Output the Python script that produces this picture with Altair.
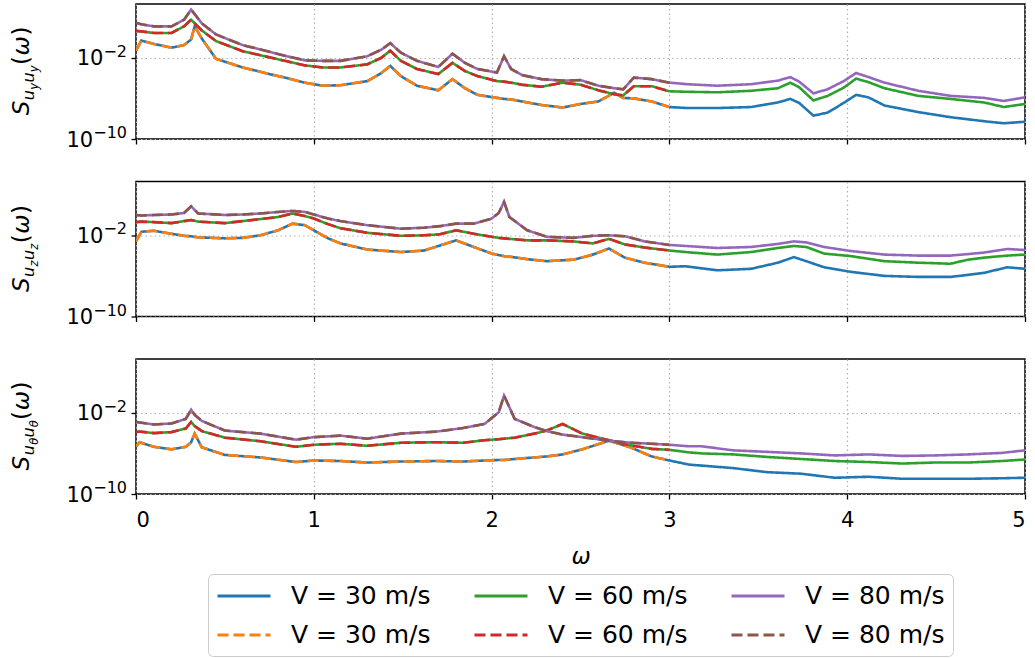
import altair as alt
import pandas as pd

# ---------------- data (log10 of spectral density) ----------------
P1_X = [0.0, 0.03, 0.1, 0.2, 0.27, 0.31, 0.33, 0.37, 0.45, 0.6, 0.75, 0.85, 0.95, 1.05, 1.15,
        1.3, 1.38, 1.43, 1.49, 1.58, 1.7, 1.78, 1.85, 1.92, 2.03, 2.07, 2.11, 2.17, 2.28, 2.4,
        2.5, 2.6, 2.69, 2.74, 2.8, 2.9, 3.0, 3.1, 3.27, 3.46, 3.61, 3.68, 3.73, 3.81, 3.89,
        3.98, 4.05, 4.12, 4.21, 4.4, 4.58, 4.77, 4.88, 5.0]
P1_V30 = [-1.3, -0.3, -0.63, -1.0, -0.75, -0.2, 1.1, -0.1, -2.1, -2.95, -3.6, -4.0, -4.45, -4.75, -4.7,
          -4.3, -3.5, -2.8, -3.8, -4.75, -5.2, -4.1, -5.0, -5.65, -5.95, -6.05, -6.1, -6.3, -6.65, -6.9,
          -6.55, -6.3, -5.45, -5.95, -6.0, -6.3, -6.85, -6.95, -6.95, -6.85, -6.4, -6.05, -6.45, -7.7, -7.4,
          -6.45, -5.65, -5.9, -6.7, -7.35, -7.85, -8.25, -8.45, -8.3]
P1_V60 = [0.65, 0.6, 0.45, 0.45, 1.1, 1.75, 1.4, 0.7, -0.35, -1.35, -1.95, -2.35, -2.75, -2.95, -2.95,
          -2.65, -2.0, -1.3, -2.3, -3.1, -3.6, -2.5, -3.3, -3.8, -4.3, -4.35, -4.45, -4.65, -4.85, -4.45,
          -4.65, -5.2, -5.6, -5.7, -4.8, -4.8, -5.3, -5.35, -5.4, -5.25, -5.0, -4.45, -4.9, -6.2, -5.75,
          -4.95, -4.05, -4.4, -5.0, -5.75, -6.05, -6.4, -6.85, -6.55]
P1_V80 = [1.45, 1.3, 1.1, 1.1, 1.75, 2.75, 2.3, 1.4, 0.3, -0.75, -1.4, -1.85, -2.25, -2.3, -2.3,
          -1.85, -1.2, -0.55, -1.5, -2.3, -2.9, -1.6, -2.5, -3.1, -3.45, -1.85, -3.1, -3.7, -4.1, -4.25,
          -4.2, -4.75, -5.0, -5.1, -3.95, -4.1, -4.45, -4.6, -4.75, -4.6, -4.25, -3.9, -4.35, -5.5, -5.1,
          -4.3, -3.5, -3.9, -4.45, -5.25, -5.75, -5.95, -6.25, -5.9]

P2_X = [0.0, 0.03, 0.1, 0.2, 0.27, 0.31, 0.35, 0.5, 0.6, 0.7, 0.8, 0.88, 0.95, 1.0, 1.08, 1.15,
        1.3, 1.49, 1.62, 1.71, 1.8, 1.9, 2.0, 2.04, 2.07, 2.1, 2.2, 2.31, 2.46, 2.57, 2.66, 2.75,
        2.86, 3.0, 3.09, 3.27, 3.46, 3.61, 3.7, 3.77, 3.87, 4.02, 4.21, 4.4, 4.58, 4.68, 4.77, 4.9, 5.0]
P2_V30 = [-2.6, -1.65, -1.55, -1.85, -2.05, -2.1, -2.2, -2.3, -2.25, -2.0, -1.5, -0.85, -1.0, -1.5, -2.3, -2.8,
          -3.4, -3.65, -3.5, -3.0, -2.5, -3.15, -3.8, -3.95, -4.05, -4.1, -4.35, -4.55, -4.4, -3.9, -3.3, -4.2,
          -4.7, -5.1, -5.05, -5.45, -5.3, -4.7, -4.15, -4.55, -5.15, -5.6, -6.0, -6.1, -6.1, -5.9, -5.7, -5.15, -5.3]
P2_V60 = [-0.7, -0.65, -0.7, -0.8, -0.6, -0.5, -0.65, -0.8, -0.6, -0.4, -0.2, 0.15, -0.1, -0.35, -0.9, -1.3,
          -1.75, -2.05, -2.0, -1.9, -1.5, -1.85, -2.15, -2.25, -2.3, -2.35, -2.5, -2.5, -2.6, -2.8, -2.35, -2.9,
          -3.2, -3.5, -3.65, -3.9, -3.65, -3.25, -3.05, -3.15, -3.8, -4.05, -4.55, -4.7, -4.8, -4.4, -4.2, -4.0, -3.9]
P2_V80 = [0.0, -0.05, 0.0, 0.05, 0.2, 0.85, 0.15, 0.0, 0.05, 0.15, 0.3, 0.4, 0.3, 0.05, -0.35, -0.6,
          -1.0, -1.35, -1.25, -1.1, -0.85, -0.85, -0.35, 0.2, 1.3, -0.2, -1.5, -2.15, -2.25, -2.05, -2.0, -2.1,
          -2.6, -2.95, -3.05, -3.25, -3.15, -2.85, -2.6, -2.7, -3.15, -3.55, -3.9, -4.0, -4.0, -3.85, -3.7, -3.35, -3.45]

P3_X = [0.0, 0.02, 0.1, 0.2, 0.28, 0.31, 0.33, 0.37, 0.5, 0.7, 0.9, 1.0, 1.15, 1.3, 1.49, 1.69,
        1.84, 1.96, 2.04, 2.07, 2.13, 2.24, 2.31, 2.4, 2.51, 2.66, 2.78, 2.9, 3.0, 3.11, 3.18, 3.36,
        3.55, 3.74, 3.93, 4.12, 4.31, 4.49, 4.68, 4.87, 5.0]
P3_V30 = [-5.3, -4.9, -5.35, -5.6, -5.35, -4.9, -4.05, -5.4, -6.15, -6.4, -6.85, -6.7, -6.75, -6.9, -6.8, -6.75,
          -6.8, -6.7, -6.65, -6.65, -6.55, -6.4, -6.3, -6.1, -5.6, -4.75, -5.4, -6.3, -6.7, -7.1, -7.2, -7.45,
          -7.85, -8.0, -8.4, -8.3, -8.5, -8.5, -8.5, -8.45, -8.4]
P3_V60 = [-3.9, -3.85, -4.0, -3.9, -3.55, -2.9, -3.3, -3.8, -4.45, -4.8, -5.35, -5.15, -5.05, -5.25, -4.95, -4.9,
          -4.95, -4.7, -4.6, -4.55, -4.45, -4.05, -3.75, -3.1, -4.05, -4.7, -5.2, -5.55, -5.65, -5.9, -6.0, -6.1,
          -6.35, -6.55, -6.75, -6.85, -7.0, -6.9, -6.9, -6.75, -6.6]
P3_V80 = [-2.9, -2.95, -3.15, -3.05, -2.6, -1.7, -2.2, -2.8, -3.75, -4.05, -4.65, -4.4, -4.25, -4.55, -4.05, -3.85,
          -3.5, -3.1, -1.95, -0.3, -2.6, -3.4, -3.8, -4.15, -4.4, -4.75, -4.95, -5.05, -5.15, -5.3, -5.3, -5.7,
          -5.85, -6.0, -6.2, -6.1, -6.25, -6.2, -6.1, -5.95, -5.7]

SPEEDS = ["30", "60", "80"]
# legend entries fill column by column: (solid, dashed) per speed
LEG_ORDER = ["s30", "d30", "s60", "d60", "s80", "d80"]
COLORS = ["#1f77b4", "#ff7f0e", "#2ca02c", "#d62728", "#9467bd", "#8c564b"]
DASHES = [[1, 0], [11, 5], [1, 0], [11, 5], [1, 0], [11, 5]]
DASHED_MAX_X = 3.0
X_TICKS = [0, 1, 2, 3, 4, 5]
Y_TICKS = [1e-10, 1e-2]
Y_TICK_BASE = ["10", "10"]
Y_TICK_EXP = ["−10", "−2"]

W, H = 889, 135
FONT = "DejaVu Sans"
EXP_SIZE = 16
BASE_SIZE = 21


def panel_df(xs, v30, v60, v80):
    rows = []
    for spd, vals in zip(SPEEDS, [v30, v60, v80]):
        for x, e in zip(xs, vals):
            rows.append({"x": x, "y": 10.0 ** e, "s": "s" + spd})
        for x, e in zip(xs, vals):
            if x <= DASHED_MAX_X + 1e-9:
                rows.append({"x": x, "y": 10.0 ** e, "s": "d" + spd})
    return pd.DataFrame(rows)


ADV = {"S": 0.635, "u": 0.634, "y": 0.592, "z": 0.525, "θ": 0.602,
       "(": 0.390, ")": 0.390, "ω": 0.838, "−": 0.838, "0": 0.636, "1": 0.636, "2": 0.636}
SIZES = {"main": 23, "sub": 16, "subsub": 11.5}
XOFF = {"main": -107, "sub": -102, "subsub": -98.5}


def ylabel_layers(sub_letter):
    pieces = [("S", "main", "italic"),
              ("u", "sub", "italic"), (sub_letter, "subsub", "italic"),
              ("u", "sub", "italic"), (sub_letter, "subsub", "italic"),
              ("(", "main", "normal"), ("ω", "main", "italic"), (")", "main", "normal")]
    total = sum(ADV[t] * SIZES[k] for t, k, _ in pieces) + 2
    pos = H / 2 + total / 2
    layers = []
    for t, k, st in pieces:
        layers.append(
            alt.Chart(pd.DataFrame({"t": [t]})).mark_text(
                angle=270, align="left", baseline="alphabetic", font=FONT,
                fontSize=SIZES[k], fontStyle=st, color="black"
            ).encode(text="t:N", x=alt.value(XOFF[k]), y=alt.value(pos))
        )
        pos -= ADV[t] * SIZES[k] + (0.6 if k == "main" else 0.3)
    return layers


def ytick_layers(yenc):
    layers = []
    for v, base, ex in zip(Y_TICKS, Y_TICK_BASE, Y_TICK_EXP):
        df = pd.DataFrame({"y": [v], "base": [base], "ex": [ex]})
        ex_w = sum(ADV[c] for c in ex) * EXP_SIZE
        layers.append(alt.Chart(df).mark_text(
            align="right", baseline="alphabetic", font=FONT, fontSize=EXP_SIZE, dy=-1, color="black"
        ).encode(y=yenc, x=alt.value(-9), text="ex:N"))
        layers.append(alt.Chart(df).mark_text(
            align="right", baseline="alphabetic", font=FONT, fontSize=BASE_SIZE, dy=7.5, color="black"
        ).encode(y=yenc, x=alt.value(-9 - ex_w), text="base:N"))
    return layers


def panel(xs, v30, v60, v80, sub_letter, bottom):
    df = panel_df(xs, v30, v60, v80)
    if bottom:
        xaxis = alt.Axis(values=X_TICKS, title="ω", format="d", labelFontSize=21, labelFont=FONT,
                         labelPadding=10, titleFont=FONT, titleFontSize=23, titleFontStyle="italic",
                         titleFontWeight="normal", titlePadding=15, grid=True, gridDash=[1.5, 3],
                         gridColor="#b0b0b0", gridWidth=1.2, domain=False, tickColor="black",
                         tickSize=5, tickWidth=1.3, labelColor="black", titleColor="black")
        leg = alt.Legend(orient="none", legendX=72, legendY=215, columns=3, title=None,
                         labelExpr="'V = ' + slice(datum.label, 1) + ' m/s'",
                         symbolType="M-1,0H3.24", symbolSize=625, symbolStrokeWidth=3,
                         symbolFillColor="transparent",
                         labelFont=FONT, labelFontSize=25, labelColor="black", labelLimit=400,
                         labelOffset=47, columnPadding=37, rowPadding=12, padding=8,
                         strokeColor="#cccccc", cornerRadius=5, fillColor="white")
    else:
        xaxis = alt.Axis(values=X_TICKS, title=None, labels=False, grid=True, gridDash=[1.5, 3],
                         gridColor="#b0b0b0", gridWidth=1.2, domain=False, tickColor="black",
                         tickSize=5, tickWidth=1.3)
        leg = None
    yaxis = alt.Axis(values=Y_TICKS, title=None, labels=False, grid=True, gridDash=[1.5, 3],
                     gridColor="#b0b0b0", gridWidth=1.2, domain=False, tickColor="black",
                     tickSize=5, tickWidth=1.3)
    yenc = alt.Y("y:Q", scale=alt.Scale(type="log", domain=[1e-10, 2e3], nice=False), axis=yaxis)
    lines = alt.Chart(df).mark_line(strokeWidth=2.6, clip=True).encode(
        x=alt.X("x:Q", scale=alt.Scale(domain=[0, 5], nice=False, zero=False), axis=xaxis),
        y=yenc,
        color=alt.Color("s:N", scale=alt.Scale(domain=LEG_ORDER, range=COLORS), legend=leg),
        strokeDash=alt.StrokeDash("s:N", scale=alt.Scale(domain=LEG_ORDER, range=DASHES), legend=leg),
    )
    return alt.layer(lines, *ytick_layers(yenc), *ylabel_layers(sub_letter)).properties(width=W, height=H)


p1 = panel(P1_X, P1_V30, P1_V60, P1_V80, "y", False)
p2 = panel(P2_X, P2_V30, P2_V60, P2_V80, "z", False)
p3 = panel(P3_X, P3_V30, P3_V60, P3_V80, "θ", True)

chart = alt.vconcat(p1, p2, p3, spacing=28.5).resolve_scale(
    color="independent", strokeDash="independent"
).properties(
    padding={"left": 10, "top": 3, "right": 5, "bottom": 5},
    background="white",
).configure_view(stroke="black", strokeWidth=1.5)

chart.save("out.html", embed_options={"renderer": "svg", "actions": False})
